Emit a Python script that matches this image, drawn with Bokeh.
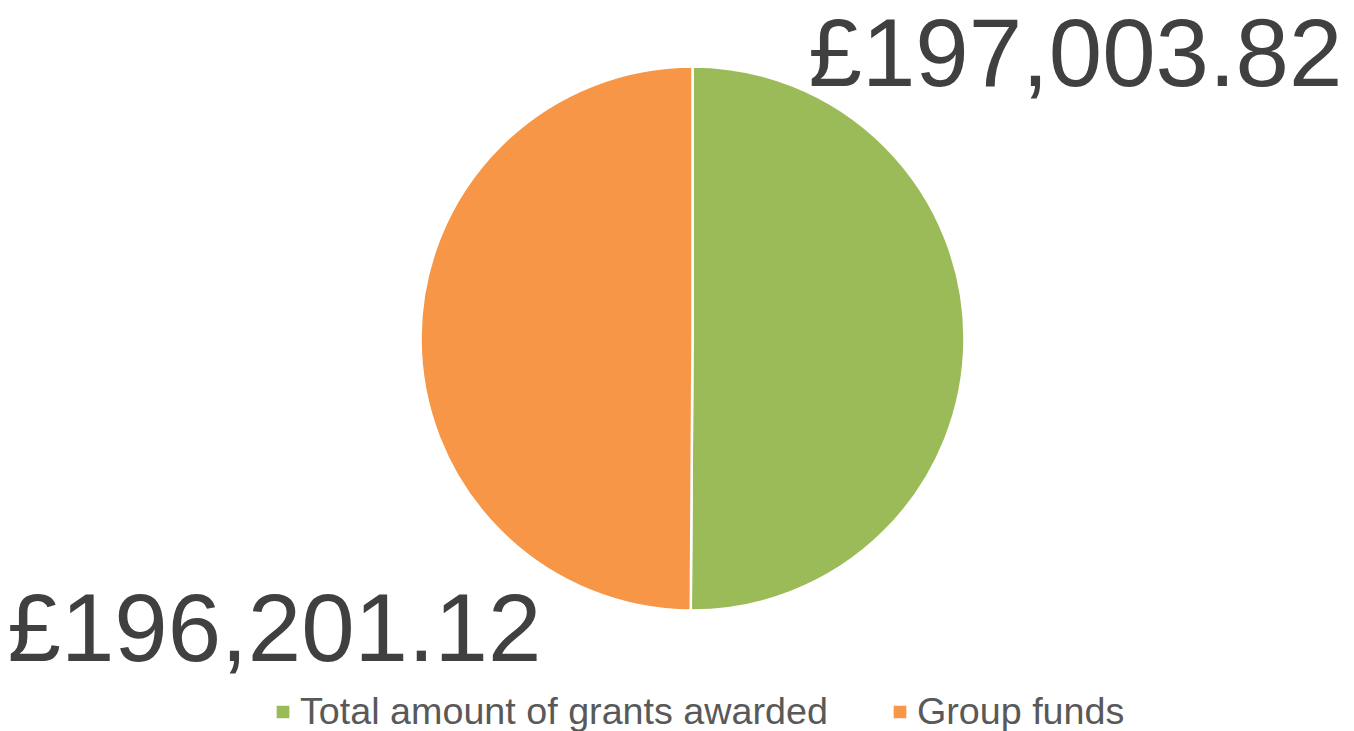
import math
from bokeh.plotting import figure
from bokeh.models import Range1d, ColumnDataSource, Label, Legend, LegendItem
from bokeh.embed import file_html
from bokeh.resources import INLINE

# ---- data ----
categories = ["Total amount of grants awarded", "Group funds"]
values = [197003.82, 196201.12]
colors = ["#9BBB59", "#F79646"]
value_labels = ["£197,003.82", "£196,201.12"]

W, H = 1354, 731
CX, CY, R = 692, 393, 272

total = sum(values)
starts, ends = [], []
acc = 0.0
for v in values:
    a0 = math.pi / 2 - 2 * math.pi * acc / total
    acc += v
    a1 = math.pi / 2 - 2 * math.pi * acc / total
    starts.append(a0)
    ends.append(a1)

src = ColumnDataSource(dict(
    x=[CX] * len(values), y=[CY] * len(values),
    start=starts, end=ends, color=colors, cat=categories,
))

p = figure(width=W, height=H, output_backend="svg", toolbar_location=None,
           x_range=Range1d(0, W), y_range=Range1d(0, H), min_border=0)
p.axis.visible = False
p.grid.visible = False
p.outline_line_color = None

r = p.wedge(x="x", y="y", radius=R, start_angle="start", end_angle="end",
            direction="clock", fill_color="color", line_color="white",
            line_width=2.5, source=src)

label_pos = [(808, 679), (7, 104)]
for (lx, ly), t in zip(label_pos, value_labels):
    p.add_layout(Label(x=lx, y=ly, text=t, text_font="Liberation Sans",
                       text_font_size="96px", text_color="#404040",
                       text_baseline="alphabetic", text_align="left"))

items = [LegendItem(label=c, renderers=[r], index=i) for i, c in enumerate(categories)]
legend = Legend(items=items, orientation="horizontal", location=(273, -2),
                label_text_font="Liberation Sans", label_text_font_size="37.7px",
                label_text_color="#595959", glyph_width=19, glyph_height=19,
                label_standoff=8, spacing=62, padding=0, margin=0,
                border_line_color=None, background_fill_alpha=0)
p.add_layout(legend)

open("out.html", "w").write(file_html(p, INLINE))
